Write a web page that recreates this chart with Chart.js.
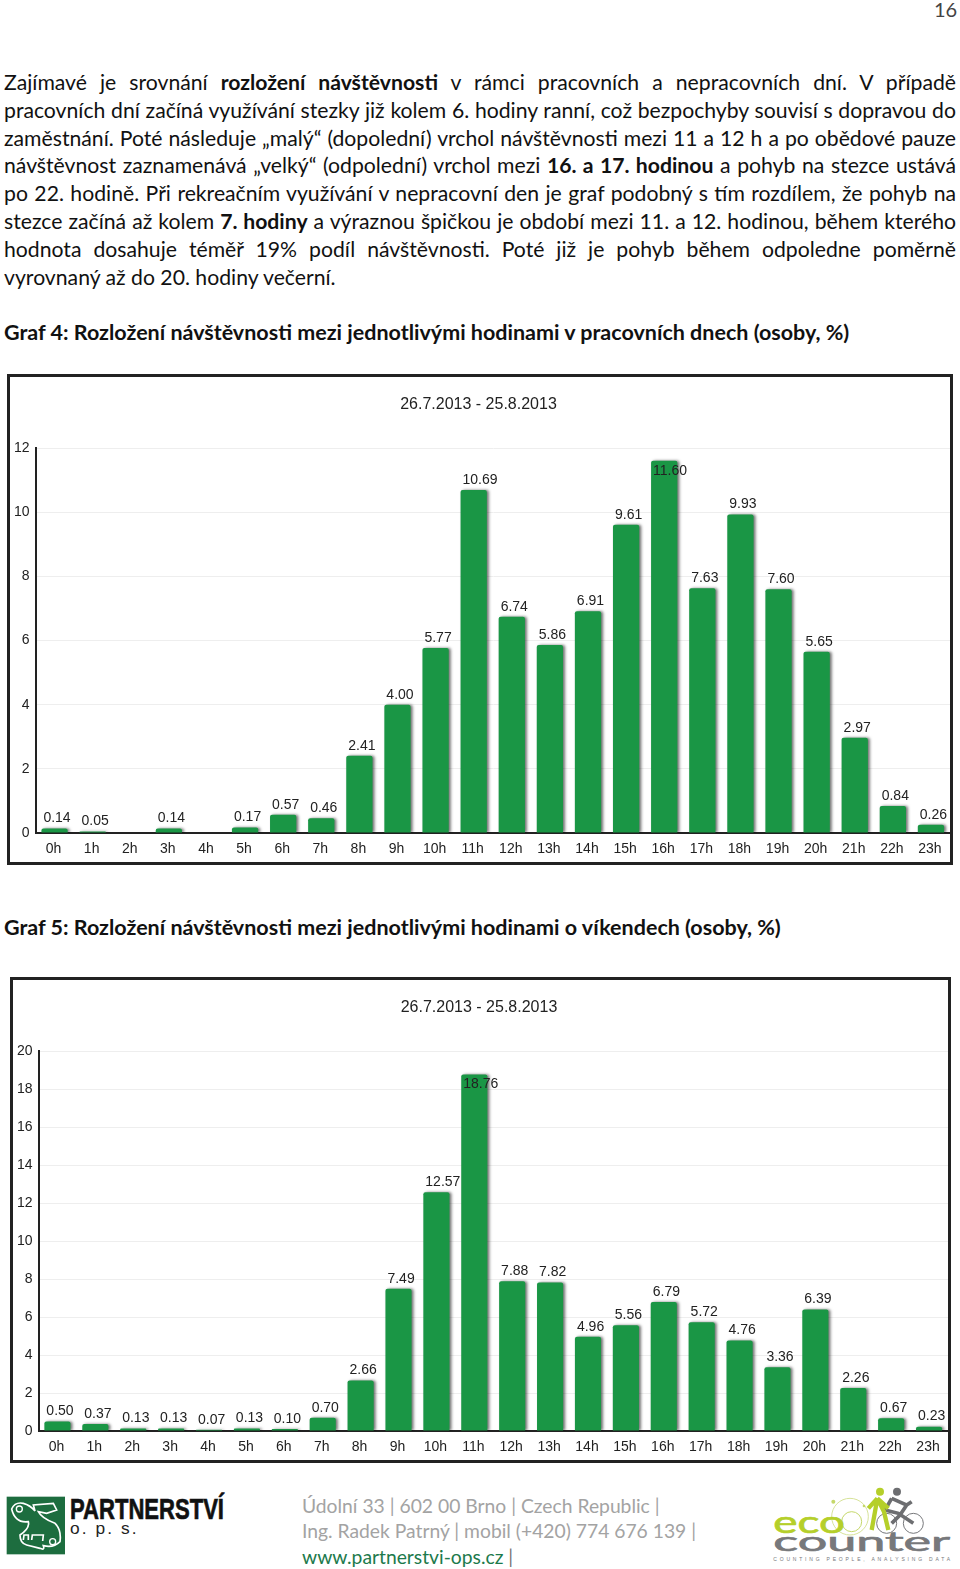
<!DOCTYPE html>
<html lang="cs">
<head>
<meta charset="utf-8">
<title>Graf 4 a Graf 5</title>
<script src="https://cdn.jsdelivr.net/npm/chart.js@4/dist/chart.umd.min.js"></script>
<style>
  html, body { margin: 0; padding: 0; background: #fff; }
  body { position: relative; width: 960px; height: 1569px; overflow: hidden; font-family: Lato, sans-serif; color: #111; }
  .abs { position: absolute; white-space: nowrap; }
  .line { position: absolute; left: 4px; width: 952px; height: 28px; line-height: 28px; font-size: 21.2px; text-align: justify; text-align-last: justify; white-space: nowrap; }
  .line.last { text-align-last: left; }
  .heading { position: absolute; left: 4px; height: 28px; line-height: 28px; font-size: 21.5px; font-weight: 700; white-space: nowrap; }
  .frame { position: absolute; box-sizing: border-box; border: 3px solid #222; pointer-events: none; }
  canvas { position: absolute; }
  .foot { position: absolute; left: 302px; height: 25px; line-height: 25px; font-size: 19.3px; color: #a3a3a3; white-space: nowrap; }
</style>
</head>
<body>
<div class="abs" style="left:934px;top:-5px;line-height:28px;font-size:20px;color:#444">16</div>

<div class="line" style="top:68px">Zajímavé je srovnání <b>rozložení návštěvnosti</b> v rámci pracovních a nepracovních dní. V případě</div>
<div class="line" style="top:96px">pracovních dní začíná využívání stezky již kolem 6. hodiny ranní, což bezpochyby souvisí s dopravou do</div>
<div class="line" style="top:124px">zaměstnání. Poté následuje „malý“ (dopolední) vrchol návštěvnosti mezi 11 a 12 h a po obědové pauze</div>
<div class="line" style="top:151px">návštěvnost zaznamenává „velký“ (odpolední) vrchol mezi <b>16. a 17. hodinou</b> a pohyb na stezce ustává</div>
<div class="line" style="top:179px">po 22. hodině. Při rekreačním využívání v nepracovní den je graf podobný s tím rozdílem, že pohyb na</div>
<div class="line" style="top:207px">stezce začíná až kolem <b>7. hodiny</b> a výraznou špičkou je období mezi 11. a 12. hodinou, během kterého</div>
<div class="line" style="top:235px">hodnota dosahuje téměř 19% podíl návštěvnosti. Poté již je pohyb během odpoledne poměrně</div>
<div class="line last" style="top:263px">vyrovnaný až do 20. hodiny večerní.</div>

<div class="heading" style="top:318px">Graf 4: Rozložení návštěvnosti mezi jednotlivými hodinami v pracovních dnech (osoby, %)</div>
<canvas id="workdays" style="left:7px;top:374px"></canvas>
<div class="frame" style="left:7px;top:374px;width:946px;height:491px"></div>

<div class="heading" style="top:913px">Graf 5: Rozložení návštěvnosti mezi jednotlivými hodinami o víkendech (osoby, %)</div>
<canvas id="weekends" style="left:10px;top:977px"></canvas>
<div class="frame" style="left:10px;top:977px;width:941px;height:486px"></div>

<svg class="abs" style="left:0;top:1485px" width="240" height="84" viewBox="0 0 720 252">
  <rect x="20" y="35" width="175" height="173" fill="#1d6d3f"/>
  <path d="M35 72 Q45 50 70 55 Q90 60 105 78 L100 60 L160 55 L170 75 L140 85 L115 80 Q125 100 165 115 Q185 135 180 170 Q160 190 130 182 Q135 197 120 190 L80 180 Q60 175 60 150 Q90 130 85 110 Q45 115 35 72 Z" fill="none" stroke="#fff" stroke-width="5"/>
  <path d="M70 165 L72 150 L85 150 L85 165 M95 165 L97 150 L130 150 L128 168" fill="none" stroke="#fff" stroke-width="5"/>
  <circle cx="58" cy="72" r="9" fill="none" stroke="#fff" stroke-width="4"/>
  <circle cx="158" cy="170" r="9" fill="none" stroke="#fff" stroke-width="4"/>
  <text x="210" y="103" font-family="Liberation Sans Narrow, Liberation Sans" font-weight="700" font-size="88" textLength="462" lengthAdjust="spacingAndGlyphs" fill="#111" stroke="#111" stroke-width="2">PARTNERSTVÍ</text>
  <text x="210" y="146" font-family="Liberation Sans" font-size="52" textLength="200" fill="#222">o. p. s.</text>
</svg>

<div class="foot" style="top:1493px">Údolní 33 | 602 00 Brno | Czech Republic |</div>
<div class="foot" style="top:1518px">Ing. Radek Patrný | mobil (+420) 774 676 139 |</div>
<div class="foot" style="top:1544px;color:#1d7a4c">www.partnerstvi-ops.cz <span style="color:#777">|</span></div>

<svg class="abs" style="left:760px;top:1480px" width="200" height="89" viewBox="0 0 600 267">
  <circle cx="270" cy="110" r="55" fill="none" stroke="#d7e39a" stroke-width="3"/>
  <circle cx="275" cy="125" r="30" fill="none" stroke="#c5d86a" stroke-width="3"/>
  <circle cx="220" cy="65" r="6" fill="#c5d86a"/>
  <circle cx="312" cy="78" r="4" fill="#c5d86a"/>
  <circle cx="380" cy="130" r="30" fill="none" stroke="#77787b" stroke-width="3"/>
  <circle cx="460" cy="130" r="30" fill="none" stroke="#77787b" stroke-width="3"/>
  <path d="M395 55 L440 75 L420 105 L395 130 M395 55 L375 90 L415 100 L460 130 M440 75 L455 65" fill="none" stroke="#6d6e71" stroke-width="11"/>
  <circle cx="411" cy="35" r="12" fill="#6d6e71"/>
  <path d="M352 55 L345 95 L335 150 M352 55 L372 95 L385 150 M352 55 L325 85 M352 55 L385 85" fill="none" stroke="#b5cf2a" stroke-width="13"/>
  <circle cx="360" cy="35" r="12" fill="#b5cf2a"/>
  <text x="40" y="160" font-family="Lato" font-weight="400" font-size="90" textLength="215" lengthAdjust="spacingAndGlyphs" fill="#b5cf2a" stroke="#b5cf2a" stroke-width="2">eco</text>
  <text x="40" y="212" font-family="Lato" font-weight="400" font-size="80" textLength="530" lengthAdjust="spacingAndGlyphs" fill="#77787b" stroke="#77787b" stroke-width="2">counter</text>
  <text x="40" y="244" font-family="Liberation Sans" font-size="15" textLength="530" fill="#77787b">COUNTING PEOPLE, ANALYSING DATA</text>
</svg>

<script>
const hours = ['0h', '1h', '2h', '3h', '4h', '5h', '6h', '7h', '8h', '9h', '10h', '11h',
  '12h', '13h', '14h', '15h', '16h', '17h', '18h', '19h', '20h', '21h', '22h', '23h'];
const workdayValues = [0.14, 0.05, null, 0.14, null, 0.17, 0.57, 0.46, 2.41, 4.00, 5.77, 10.69,
  6.74, 5.86, 6.91, 9.61, 11.60, 7.63, 9.93, 7.60, 5.65, 2.97, 0.84, 0.26];
const weekendValues = [0.50, 0.37, 0.13, 0.13, 0.07, 0.13, 0.10, 0.70, 2.66, 7.49, 12.57, 18.76,
  7.88, 7.82, 4.96, 5.56, 6.79, 5.72, 4.76, 3.36, 6.39, 2.26, 0.67, 0.23];
const dateRange = '26.7.2013 - 25.8.2013';

const axisFont = { family: '"Liberation Sans", Arial, sans-serif', size: 14 };

// soft shadow to the right of the bars, as in the original picture
const barShadow = {
  id: 'barShadow',
  beforeDatasetDraw(chart) {
    const ctx = chart.ctx;
    ctx.save();
    ctx.shadowColor = 'rgba(0,0,0,0.55)';
    ctx.shadowBlur = 3;
    ctx.shadowOffsetX = 2;
    ctx.shadowOffsetY = 0;
  },
  afterDatasetDraw(chart) {
    chart.ctx.restore();
  },
};

// value above each bar, left aligned with the bar; the tallest label is pushed down into its bar
const valueLabels = {
  id: 'valueLabels',
  afterDatasetsDraw(chart, args, opts) {
    const ctx = chart.ctx;
    const meta = chart.getDatasetMeta(0);
    const values = chart.data.datasets[0].data;
    ctx.save();
    ctx.font = '14px "Liberation Sans", Arial, sans-serif';
    ctx.fillStyle = '#222';
    ctx.textAlign = 'left';
    ctx.textBaseline = 'middle';
    meta.data.forEach((bar, i) => {
      if (values[i] === null) return;
      ctx.fillText(values[i].toFixed(2), bar.x - bar.width / 2 + 2, Math.max(bar.y - 10, opts.minY));
    });
    ctx.restore();
  },
};

function drawHourChart(element, values, yMax, box) {
  const canvas = document.getElementById(element);
  canvas.width = box.width;
  canvas.height = box.height;
  canvas.style.width = box.width + 'px';
  canvas.style.height = box.height + 'px';
  return new Chart(canvas, {
    type: 'bar',
    data: {
      labels: hours,
      datasets: [{
        data: values,
        backgroundColor: '#1a9645',
        borderRadius: { topLeft: 2, topRight: 2 },
        borderSkipped: 'bottom',
        barPercentage: 1,
        categoryPercentage: 0.69,
      }],
    },
    options: {
      responsive: false,
      animation: false,
      devicePixelRatio: 1,
      layout: { padding: { right: 3 } },
      plugins: {
        legend: { display: false },
        tooltip: { enabled: false },
        title: {
          display: true,
          text: dateRange,
          color: '#222',
          font: { family: '"Liberation Sans", Arial, sans-serif', size: 16, weight: 'normal', lineHeight: '18px' },
          padding: { top: box.titleTop, bottom: 56 - box.titleTop },
        },
        valueLabels: { minY: box.labelMinY },
      },
      scales: {
        x: {
          afterFit(axis) { axis.height = 32; },
          grid: { display: false },
          border: { color: '#222', width: 2 },
          ticks: { color: '#222', font: axisFont, padding: 0, labelOffset: -1, maxRotation: 0, autoSkip: false },
        },
        y: {
          min: 0,
          max: yMax,
          afterFit(axis) { axis.width = box.axisWidth; },
          grid: { color: '#eeeeee', drawTicks: false },
          border: { color: '#222', width: 2 },
          ticks: { stepSize: 2, color: '#222', font: axisFont, padding: 6 },
        },
      },
    },
    plugins: [barShadow, valueLabels],
  });
}

drawHourChart('workdays', workdayValues, 12, { width: 946, height: 491, axisWidth: 28.5, titleTop: 22, labelMinY: 97 });
drawHourChart('weekends', weekendValues, 20, { width: 941, height: 486, axisWidth: 28.5, titleTop: 22, labelMinY: 107 });
</script>
</body>
</html>
